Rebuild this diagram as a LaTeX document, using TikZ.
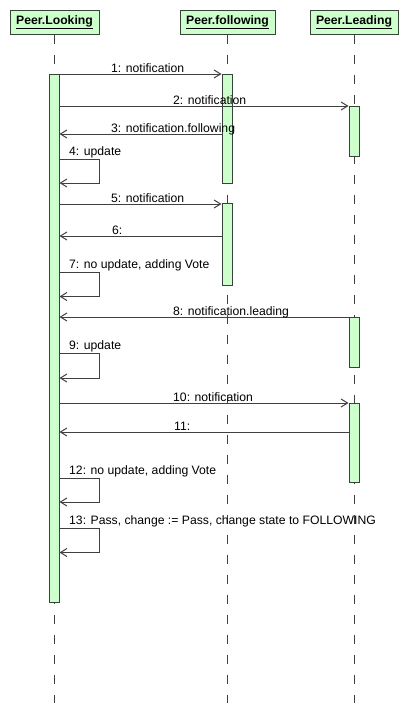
\documentclass[tikz,border=0pt]{standalone}
\usepackage{fontspec}
\setmainfont{Liberation Sans}
\usetikzlibrary{arrows.meta}
\definecolor{boxfill}{RGB}{204,255,204}
\definecolor{boxline}{RGB}{56,66,56}
\definecolor{msgline}{RGB}{64,64,64}
\tikzset{
  head/.style={draw=boxline, fill=boxfill, line width=1pt, inner sep=0pt, minimum height=24pt, font=\fontsize{12.2}{14}\selectfont\bfseries},
  act/.style={draw=boxline, fill=boxfill, line width=1pt, inner sep=0pt, minimum width=10pt, anchor=north},
  life/.style={draw=msgline, line width=1pt, dash pattern=on 9.5pt off 10.5pt},
  msg/.style={draw=msgline, line width=1pt, -{Straight Barb[length=6.5pt,width=8pt,line width=1pt]}},
  lbl/.style={inner sep=0pt, anchor=base west, font=\fontsize{12.2}{14}\selectfont}
}
\begin{document}
\begin{tikzpicture}[x=1pt,y=-1pt]
\useasboundingbox[fill=white] (0,0) rectangle (408,712);
% headers
\node[head, minimum width=89pt] (L) at (54.5,22) {\underline{Peer.Looking}};
\node[head, minimum width=95pt] (F) at (227.5,22) {\underline{Peer.following}};
\node[head, minimum width=88pt] (D) at (354,22) {\underline{Peer.Leading}};
% lifeline ends
\coordinate (bot) at (0,703);
\draw[life] (L.south) -- (L.south |- bot);
\draw[life] (F.south) -- (F.south |- bot);
\draw[life] (D.south) -- (D.south |- bot);
% activation boxes
\node[act, minimum height=528pt] (aL) at (54,74) {};
\node[act, minimum height=109pt] (aF1) at (227,74) {};
\node[act, minimum height=82pt] (aF2) at (227,203) {};
\node[act, minimum height=50pt] (aD1) at (354,106) {};
\node[act, minimum height=50pt] (aD2) at (354,317) {};
\node[act, minimum height=79pt] (aD3) at (354,403) {};
% message levels
\coordinate (y1) at (0,74);
\coordinate (y2) at (0,106);
\coordinate (y3) at (0,134);
\coordinate (y5) at (0,204);
\coordinate (y6) at (0,236);
\coordinate (y8) at (0,317);
\coordinate (y10) at (0,403);
\coordinate (y11) at (0,432);
\coordinate (s4) at (0,159);
\coordinate (s7) at (0,272);
\coordinate (s9) at (0,353);
\coordinate (s12) at (0,478);
\coordinate (s13) at (0,528);
% messages
\draw[msg] (aL.east |- y1) -- (aF1.west |- y1);
\node[lbl] (t1) at (111,72) {1: notification};
\draw[msg] (aL.east |- y2) -- (aD1.west |- y2);
\node[lbl] (t2) at (173,104) {2: notification};
\draw[msg] (aF1.west |- y3) -- (aL.east |- y3);
\node[lbl] (t3) at (111,132) {3: notification.following};
\draw[msg] (aL.east |- s4) -- ++(40,0) -- ++(0,24) -- ++(-40,0);
\node[lbl] (t4) at (69,155) {4: update};
\draw[msg] (aL.east |- y5) -- (aF2.west |- y5);
\node[lbl] (t5) at (111,202) {5: notification};
\draw[msg] (aF2.west |- y6) -- (aL.east |- y6);
\node[lbl] (t6) at (112,234) {6:};
\draw[msg] (aL.east |- s7) -- ++(40,0) -- ++(0,24.5) -- ++(-40,0);
\node[lbl] (t7) at (69,268) {7: no update, adding Vote};
\draw[msg] (aD2.west |- y8) -- (aL.east |- y8);
\node[lbl] (t8) at (173,315) {8: notification.leading};
\draw[msg] (aL.east |- s9) -- ++(40,0) -- ++(0,25) -- ++(-40,0);
\node[lbl] (t9) at (69,349) {9: update};
\draw[msg] (aL.east |- y10) -- (aD3.west |- y10);
\node[lbl] (t10) at (173,401) {10: notification};
\draw[msg] (aD3.west |- y11) -- (aL.east |- y11);
\node[lbl] (t11) at (174,430) {11:};
\draw[msg] (aL.east |- s12) -- ++(40,0) -- ++(0,24) -- ++(-40,0);
\node[lbl] (t12) at (69,474) {12: no update, adding Vote};
\draw[msg] (aL.east |- s13) -- ++(40,0) -- ++(0,24.5) -- ++(-40,0);
\node[lbl] (t13) at (69,524) {13: Pass, change := Pass, change state to FOLLOWING};
\end{tikzpicture}
\end{document}
